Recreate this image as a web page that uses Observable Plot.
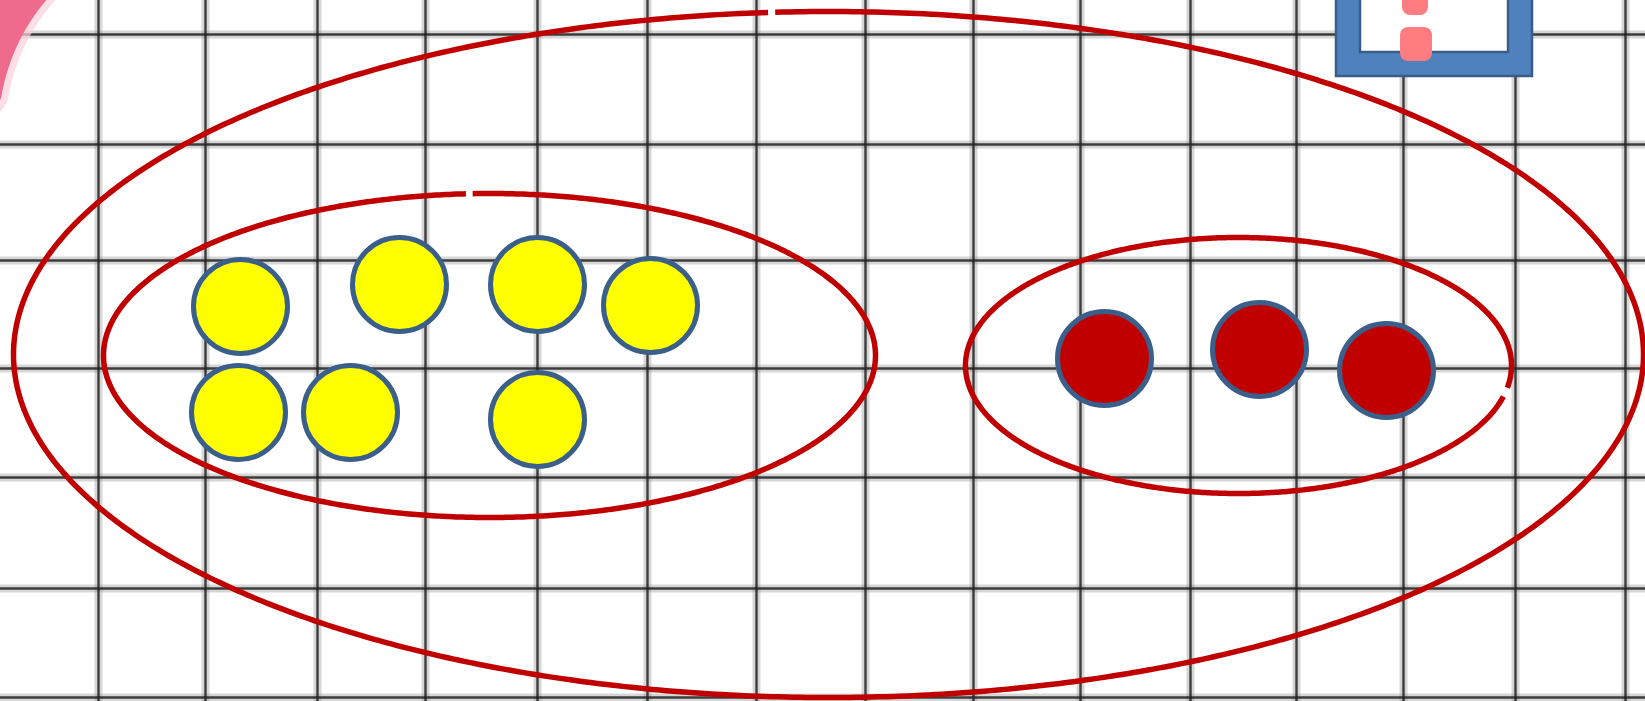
<!DOCTYPE html>
<html>
<head>
<meta charset="utf-8">
<script src="https://cdn.jsdelivr.net/npm/d3@7"></script>
<script src="https://cdn.jsdelivr.net/npm/@observablehq/plot@0.6"></script>
<style>
  html, body { margin: 0; padding: 0; background: #fff; }
  #chart { width: 1645px; height: 701px; overflow: hidden; }
</style>
</head>
<body>
<div id="chart"></div>
<script>
// Grid line positions (picture coordinates)
const gridX = [98, 205, 317, 425, 537, 647, 756, 865, 973, 1080, 1190, 1296, 1403, 1515, 1625];
const gridY = [34, 144, 260, 368, 477, 588, 697];

// Yellow counters
const yellowX = [240, 399, 537, 650, 238, 350, 537];
const yellowY = [306, 284, 284, 305, 412, 412, 419];

// Red counters
const redX = [1104, 1259, 1386];
const redY = [358, 349, 370];

// Ellipses (sets): centre, radii, where the outline's small gap sits (degrees)
const ellipseName = ["all", "yellow", "red"];
const ellipseCx = [828, 489, 1238];
const ellipseCy = [354, 355, 365];
const ellipseRx = [815, 386, 273];
const ellipseRy = [343, 162, 128];
const ellipseGapAt = [94, 93, -12];
const ellipseGapDeg = [0.5, 1.0, 4.0];

// Blue box in the top-right corner
const boxOuter = {x1: 1336, x2: 1532, y1: -10, y2: 76};
const boxInner = {x1: 1360, x2: 1508, y1: -10, y2: 52};
const pinkMarks = [
  {x1: 1400, x2: 1432, y1: 27, y2: 61},
  {x1: 1402, x2: 1428, y1: -10, y2: 15}
];

// Pink arc cut off at the top-left corner: centre, radius, start/end angle (deg, screen)
const arcCx = 200, arcCy = 130, arcR = 222, arcFrom = -170, arcTo = -115;

const W = 1645, H = 701;

const ellipsePts = [];
ellipseName.forEach((name, i) => {
  const a0 = ellipseGapAt[i] + ellipseGapDeg[i] / 2;
  const a1 = ellipseGapAt[i] + 360 - ellipseGapDeg[i] / 2;
  const n = 720;
  for (let k = 0; k <= n; k++) {
    const a = (a0 + (a1 - a0) * k / n) * Math.PI / 180;
    ellipsePts.push({id: name, x: ellipseCx[i] + ellipseRx[i] * Math.cos(a), y: ellipseCy[i] - ellipseRy[i] * Math.sin(a)});
  }
});

const arcPts = [];
for (let k = 0; k <= 120; k++) {
  const a = (arcFrom + (arcTo - arcFrom) * k / 120) * Math.PI / 180;
  arcPts.push({x: arcCx + arcR * Math.cos(a), y: arcCy + arcR * Math.sin(a)});
}

const yellow = yellowX.map((x, i) => ({x, y: yellowY[i]}));
const red = redX.map((x, i) => ({x, y: redY[i]}));
const vLines = gridX.map(x => ({x}));
const hLines = gridY.map(y => ({y}));

const chart = Plot.plot({
  width: W,
  height: H,
  margin: 0,
  style: {background: "#fff", overflow: "hidden"},
  x: {domain: [0, W], axis: null},
  y: {domain: [0, H], reverse: true, axis: null},
  marks: [
    // blurred grid halo
    Plot.ruleX(vLines, {x: "x", y1: 0, y2: H, stroke: "#8a8a8a", strokeWidth: 8, strokeOpacity: 0.35}),
    Plot.ruleY(hLines, {y: "y", x1: 0, x2: W, stroke: "#8a8a8a", strokeWidth: 8, strokeOpacity: 0.35}),
    // grid core
    Plot.ruleX(vLines, {x: "x", y1: 0, y2: H, stroke: "#222", strokeWidth: 2.4, strokeOpacity: 0.85}),
    Plot.ruleY(hLines, {y: "y", x1: 0, x2: W, stroke: "#222", strokeWidth: 2.4, strokeOpacity: 0.85}),
    // pink arc with soft edge
    Plot.line(arcPts, {x: "x", y: "y", stroke: "#fbd0db", strokeWidth: 54, strokeOpacity: 0.7, strokeLinecap: "round"}),
    Plot.line(arcPts, {x: "x", y: "y", stroke: "#ef6b8d", strokeWidth: 40, strokeLinecap: "round"}),
    // blue box
    Plot.rect([boxOuter], {x1: "x1", x2: "x2", y1: "y1", y2: "y2", fill: "#4f81bd", stroke: "#385d8a", strokeWidth: 2.5}),
    Plot.rect([boxInner], {x1: "x1", x2: "x2", y1: "y1", y2: "y2", fill: "#ffffff", stroke: "#385d8a", strokeWidth: 2.5}),
    Plot.rect(pinkMarks, {x1: "x1", x2: "x2", y1: "y1", y2: "y2", fill: "#ff7c80", rx: 8}),
    // set ellipses
    Plot.line(ellipsePts, {x: "x", y: "y", z: "id", stroke: "#c00000", strokeWidth: 5.5, strokeLinecap: "butt", curve: "linear"}),
    // counters
    Plot.dot(yellow, {x: "x", y: "y", r: 47, fill: "#ffff00", stroke: "#3b5f8b", strokeWidth: 5}),
    Plot.dot(red, {x: "x", y: "y", r: 47, fill: "#c00000", stroke: "#3b5f8b", strokeWidth: 5})
  ]
});
document.getElementById("chart").appendChild(chart);
</script>
</body>
</html>
